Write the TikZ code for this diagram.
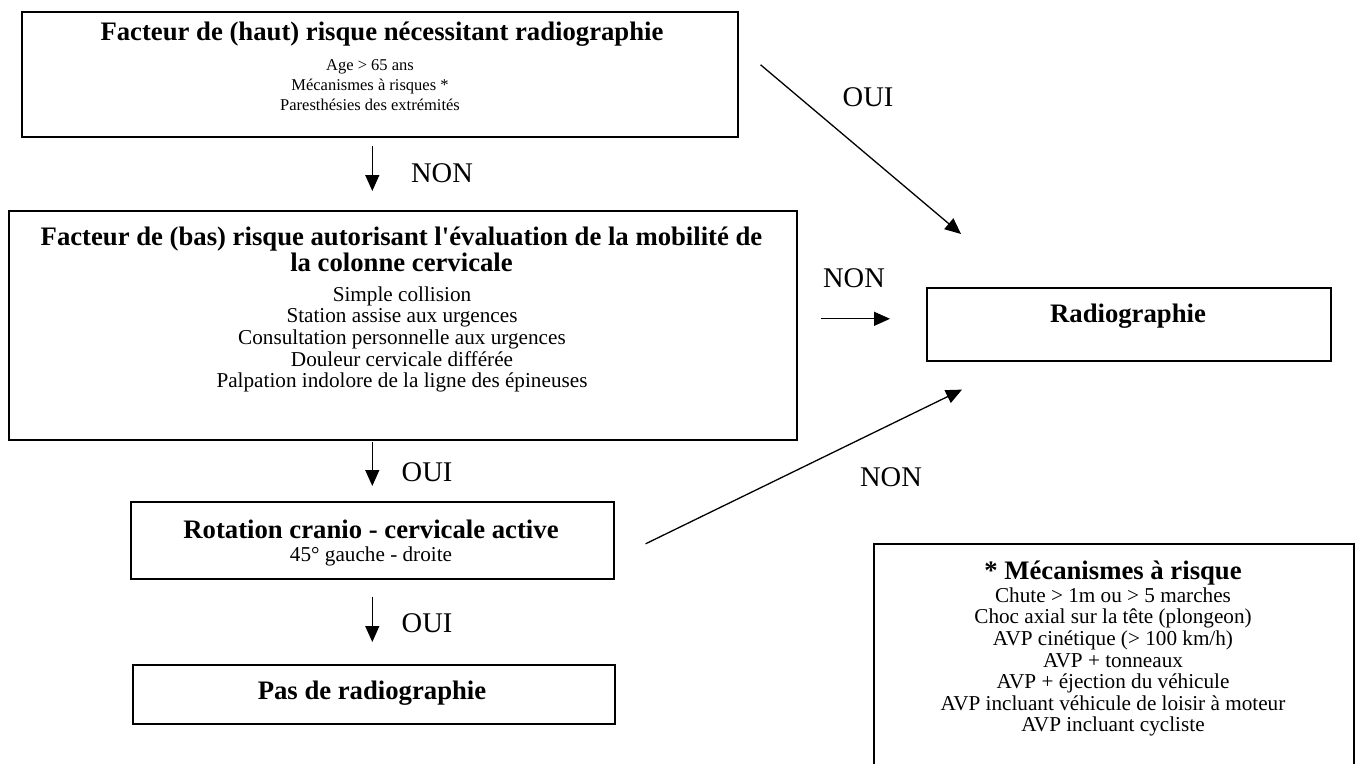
\documentclass[tikz,border=0pt]{standalone}
\usepackage{fontspec}
\setmainfont{Liberation Serif}[Ligatures=TeXOff]
\usetikzlibrary{positioning,arrows.meta,calc}

\tikzset{
  box/.style={draw, line width=1.6pt, anchor=north west, inner sep=0pt},
  ttl/.style={font=\bfseries\fontsize{26.7}{26}\selectfont, align=center, inner sep=0pt},
  sub/.style={font=\fontsize{21.2}{21.6}\selectfont, align=center, inner sep=0pt},
  lbl/.style={font=\fontsize{28.5}{30}\selectfont, inner sep=0pt},
  arr/.style={-{Triangle[length=16pt,width=14pt]}, line width=1.3pt},
}

\begin{document}
\begin{tikzpicture}[x=1pt,y=-1pt]
\useasboundingbox (0,0) rectangle (1356,763);

% Boxes
\node[box, minimum width=716pt, minimum height=125pt] (haut) at (21,11) {};
\node[box, minimum width=788pt, minimum height=229pt] (bas) at (8,210) {};
\node[box, minimum width=483pt, minimum height=77pt] (rot) at (130,501) {};
\node[box, minimum width=482pt, minimum height=59pt] (pas) at (132,664) {};
\node[box, minimum width=404pt, minimum height=73pt] (radio) at (926,287) {};
\node[box, minimum width=480pt, minimum height=240pt] (meca) at (873,543) {};

% Texts in the boxes
\node[ttl] (hautT) at (382,34) {Facteur de (haut) risque nécessitant radiographie};
\node[sub, font=\fontsize{16.5}{20}\selectfont] (hautS) at (370,85) {Age > 65 ans\\Mécanismes à risques *\\Paresthésies des extrémités};
\node[ttl] (basT) at (401.5,249) {Facteur de (bas) risque autorisant l'évaluation de la mobilité de\\la colonne cervicale};
\node[sub] (basS) at (402,339.5) {Simple collision\\Station assise aux urgences\\Consultation personnelle aux urgences\\Douleur cervicale différée\\Palpation indolore de la ligne des épineuses};
\node[ttl] (rotT) at (371,529) {Rotation cranio - cervicale active};
\node[sub] (rotS) at (371,556) {45° gauche - droite};
\node[ttl] (pasT) at (372,693) {Pas de radiographie};
\node[ttl] (radioT) at (1128,316) {Radiographie};
\node[ttl] (mecaT) at (1113,573) {* Mécanismes à risque};
\node[sub] (mecaS) at (1113,662) {Chute > 1m ou > 5 marches\\Choc axial sur la tête (plongeon)\\AVP cinétique (> 100 km/h)\\AVP + tonneaux\\AVP + éjection du véhicule\\AVP incluant véhicule de loisir à moteur\\AVP incluant cycliste};

% Arrows
\draw[arr, shorten <=8pt, shorten >=19pt] (haut.south -| rot.north) -- (bas.north -| rot.north);
\draw[arr, shorten <=1pt, shorten >=15pt] (bas.south -| rot.north) -- (rot.north);
\draw[arr, shorten <=17pt, shorten >=22pt] (rot.south) -- (pas.north -| rot.south);
\draw[arr] ($(haut.east)+(22,-9.5)$) -- ($(radio.north west)+(35,-53)$);
\draw[arr] ($(radio.west)+(-105,-5.5)$) -- ($(radio.west)+(-36,-5.5)$);
\draw[arr] ($(rot.east)+(31,3.5)$) -- ($(radio.south west)+(36,28)$);

% Labels
\node[lbl] (nonA) at (442,173) {NON};
\node[lbl] (ouiB) at (427,472) {OUI};
\node[lbl] (ouiC) at (427,623) {OUI};
\node[lbl] (ouiA) at (868,97) {OUI};
\node[lbl] (nonB) at (854,278) {NON};
\node[lbl] (nonC) at (891,477) {NON};
\end{tikzpicture}
\end{document}
